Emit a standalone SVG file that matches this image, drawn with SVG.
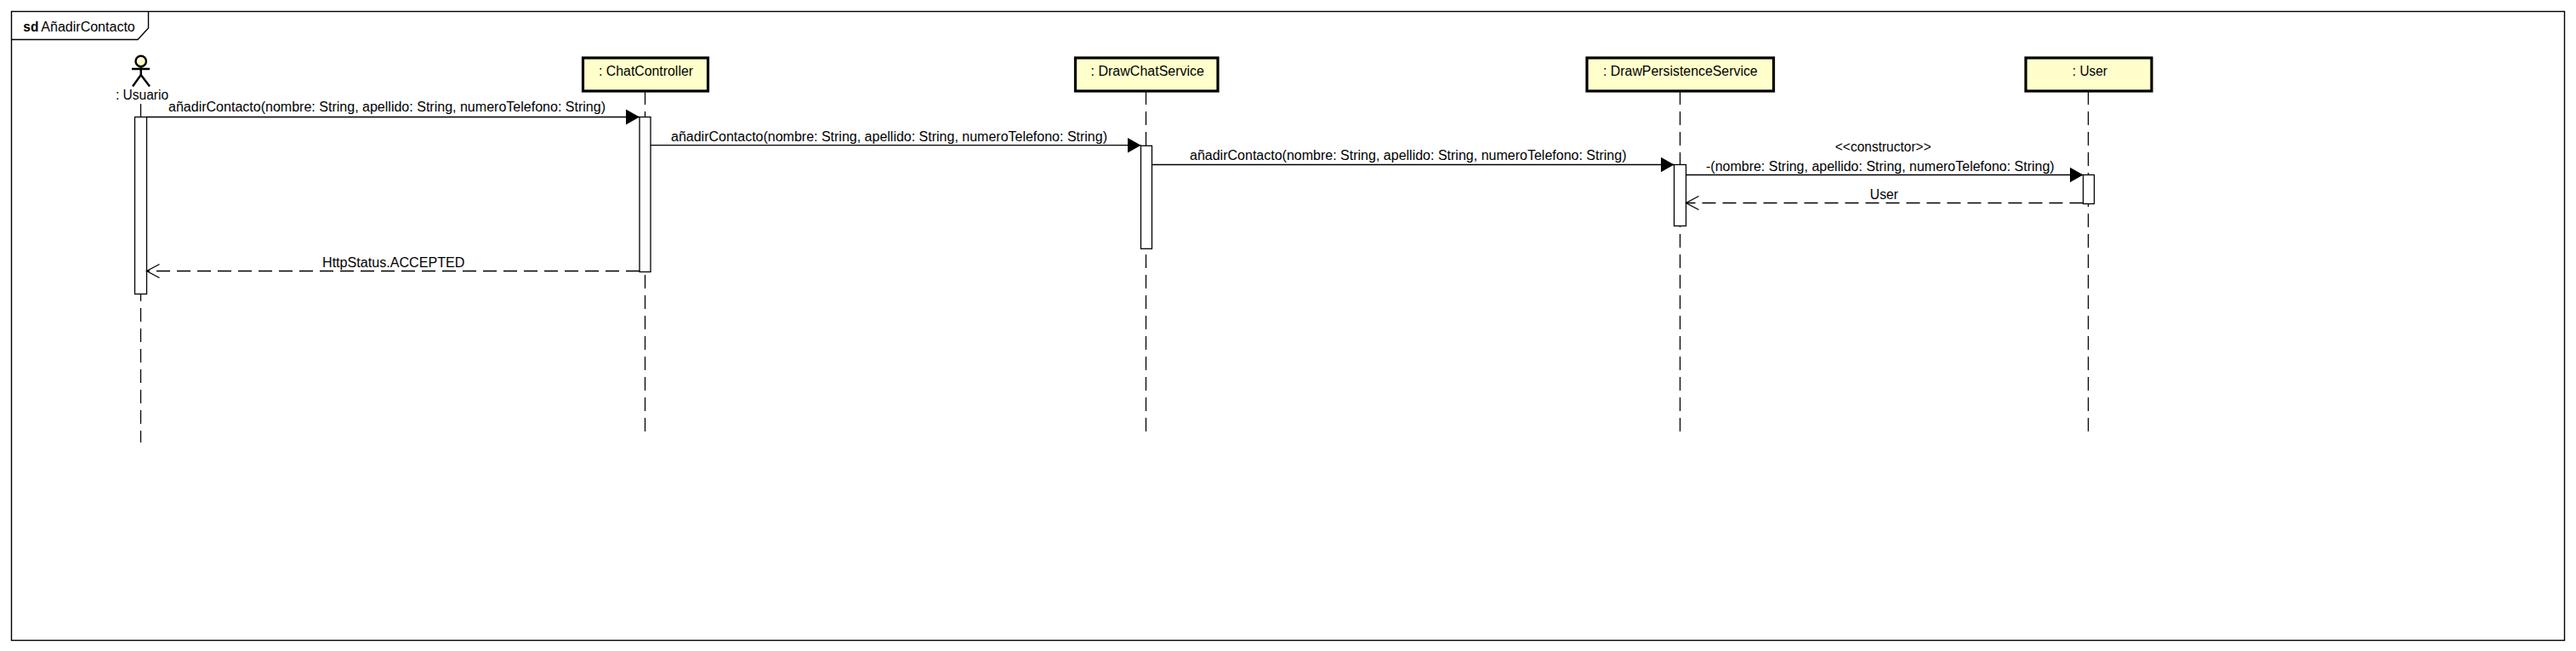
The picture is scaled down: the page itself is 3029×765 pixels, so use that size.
<svg xmlns="http://www.w3.org/2000/svg" width="3029" height="765" viewBox="0 0 3029 765">
<style>
text{font-family:"Liberation Sans",Arial,sans-serif;font-size:16px;fill:#000}
.box{fill:#ffffcc;stroke:#000;stroke-width:3.2}
.life{stroke:#000;stroke-width:1.3;stroke-dasharray:16 8;fill:none}
.act{fill:#fff;stroke:#000;stroke-width:1.3}
.msg{stroke:#000;stroke-width:1.3;fill:none}
.ret{stroke:#000;stroke-width:1.3;fill:none;stroke-dasharray:16 8}
.fr{fill:none;stroke:#000;stroke-width:1.4}
</style>
<defs>
<marker id="solid" markerUnits="userSpaceOnUse" markerWidth="18" markerHeight="20" refX="16" refY="10" orient="auto"><path d="M0,1 L16,10 L0,19 Z" fill="#000"/></marker>
<marker id="open" markerUnits="userSpaceOnUse" markerWidth="18" markerHeight="20" refX="16" refY="10" orient="auto"><path d="M1,2 L16,10 L1,18" fill="none" stroke="#000" stroke-width="1.3"/></marker>
</defs>
<rect width="3029" height="765" fill="#fff"/>
<g id="frame">
<rect class="fr" x="13.5" y="13.5" width="3002" height="739"/>
<path class="fr" d="M13.5,46.5 H162 L174.5,33 V13.5"/>
<text x="27.3" y="36.7" style="font-weight:bold" textLength="18" lengthAdjust="spacingAndGlyphs">sd</text>
<text x="48.3" y="36.7" textLength="110.5" lengthAdjust="spacingAndGlyphs">AñadirContacto</text>
</g>
<g id="usuario">
<line class="life" x1="165.5" y1="122" x2="165.5" y2="520"/>
<circle cx="165.7" cy="72" r="6.2" fill="#ffffcc" stroke="#000" stroke-width="2.4"/>
<path d="M165.7,78 V88 M155,81 H176 M156,101.5 L165.7,88 L176,101.5" fill="none" stroke="#000" stroke-width="2.4"/>
<text x="136" y="116.5" textLength="62" lengthAdjust="spacingAndGlyphs">: Usuario</text>
<rect class="act" x="158.5" y="137.5" width="14" height="208"/>
</g>
<g id="chatController">
<line class="life" x1="758.5" y1="107" x2="758.5" y2="507"/>
<rect class="box" x="685.5" y="68" width="147" height="39"/>
<text x="704" y="89" textLength="111" lengthAdjust="spacingAndGlyphs">: ChatController</text>
<rect class="act" x="752" y="137.5" width="13" height="182"/>
</g>
<g id="drawChatService">
<line class="life" x1="1347.5" y1="107" x2="1347.5" y2="507"/>
<rect class="box" x="1264.5" y="68" width="167.5" height="39"/>
<text x="1282.6" y="89" textLength="133.4" lengthAdjust="spacingAndGlyphs">: DrawChatService</text>
<rect class="act" x="1341.5" y="171.3" width="13" height="121"/>
</g>
<g id="drawPersistenceService">
<line class="life" x1="1975.5" y1="107" x2="1975.5" y2="507"/>
<rect class="box" x="1866" y="68" width="219.5" height="39"/>
<text x="1885" y="89" textLength="181.7" lengthAdjust="spacingAndGlyphs">: DrawPersistenceService</text>
<rect class="act" x="1968.5" y="193.5" width="14" height="72"/>
</g>
<g id="user">
<line class="life" x1="2455.5" y1="107" x2="2455.5" y2="507"/>
<rect class="box" x="2382" y="68" width="148" height="39"/>
<text x="2436.8" y="89" textLength="41.2" lengthAdjust="spacingAndGlyphs">: User</text>
<rect class="act" x="2449.5" y="205.5" width="13" height="34"/>
</g>
<g id="connectors">
<line class="msg" x1="172.5" y1="137.5" x2="752" y2="137.5" marker-end="url(#solid)"/>
<text x="198" y="131" textLength="514" lengthAdjust="spacingAndGlyphs">añadirContacto(nombre: String, apellido: String, numeroTelefono: String)</text>
<line class="msg" x1="765" y1="170.7" x2="1341.5" y2="170.7" marker-end="url(#solid)"/>
<text x="789" y="165.7" textLength="513" lengthAdjust="spacingAndGlyphs">añadirContacto(nombre: String, apellido: String, numeroTelefono: String)</text>
<line class="msg" x1="1354.5" y1="193.5" x2="1968.5" y2="193.5" marker-end="url(#solid)"/>
<text x="1399" y="188.3" textLength="513.5" lengthAdjust="spacingAndGlyphs">añadirContacto(nombre: String, apellido: String, numeroTelefono: String)</text>
<line class="msg" x1="1982.5" y1="205.5" x2="2449.5" y2="205.5" marker-end="url(#solid)"/>
<text x="2157.8" y="178.3" textLength="112.9" lengthAdjust="spacingAndGlyphs">&lt;&lt;constructor&gt;&gt;</text>
<text x="2006" y="200.7" textLength="409.7" lengthAdjust="spacingAndGlyphs">-(nombre: String, apellido: String, numeroTelefono: String)</text>
<line class="ret" x1="2449.5" y1="238.5" x2="1982.5" y2="238.5" marker-end="url(#open)"/>
<text x="2198.8" y="234" textLength="33.2" lengthAdjust="spacingAndGlyphs">User</text>
<line class="ret" x1="752" y1="318.5" x2="172.5" y2="318.5" marker-end="url(#open)"/>
<text x="379" y="314" textLength="167.4" lengthAdjust="spacingAndGlyphs">HttpStatus.ACCEPTED</text>
</g>
</svg>
